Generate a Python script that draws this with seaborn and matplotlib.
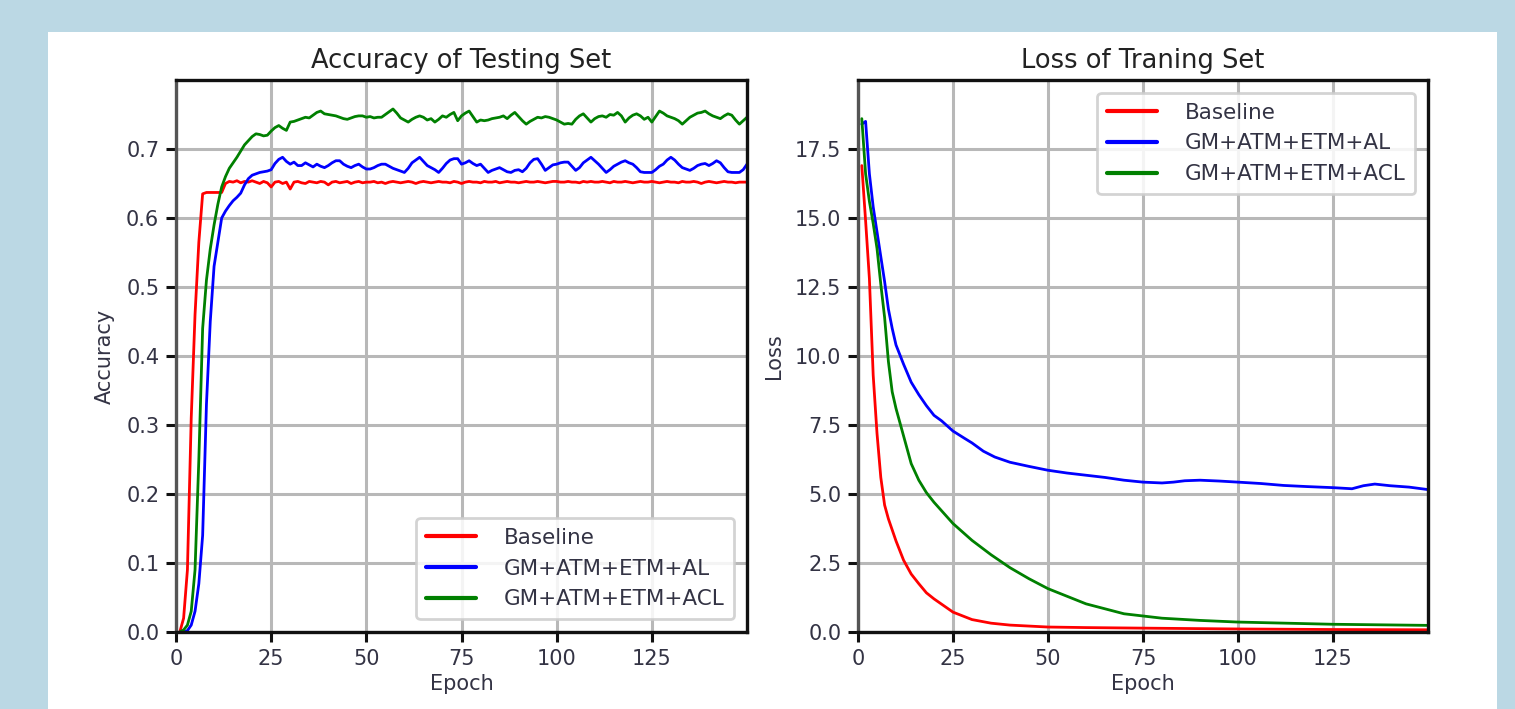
import numpy as np
import pandas as pd
import matplotlib
matplotlib.use("Agg")
import matplotlib.pyplot as plt
from matplotlib.patches import Rectangle
import seaborn as sns

# ---------------- data ----------------
series_names = ["Baseline", "GM+ATM+ETM+AL", "GM+ATM+ETM+ACL"]
series_colors = ["#ff0000", "#0000ff", "#008000"]

epochs_acc = list(range(1, 151))

acc_baseline = [
    0.0, 0.02, 0.09, 0.31, 0.46, 0.565, 0.635, 0.637, 0.637, 0.637, 0.637, 0.637,
    0.650, 0.653, 0.652, 0.654, 0.651, 0.653, 0.652, 0.654, 0.652, 0.650, 0.653, 0.651, 0.645, 0.652, 0.653, 0.650, 0.652, 0.642,
    0.652, 0.653, 0.651, 0.650, 0.653, 0.652, 0.651, 0.653, 0.652, 0.648, 0.652, 0.653, 0.651, 0.652, 0.653, 0.650, 0.652, 0.653, 0.651, 0.652,
    0.652, 0.653, 0.651, 0.652, 0.650, 0.652, 0.653, 0.652, 0.651, 0.652, 0.653, 0.652, 0.650, 0.652, 0.653, 0.652, 0.651, 0.652, 0.653, 0.652,
    0.652, 0.651, 0.653, 0.652, 0.650, 0.652, 0.653, 0.652, 0.652, 0.651, 0.653, 0.652, 0.652, 0.653, 0.651, 0.652, 0.653, 0.652, 0.652, 0.651,
    0.652, 0.653, 0.652, 0.652, 0.653, 0.652, 0.651, 0.652, 0.653, 0.653, 0.652, 0.652, 0.653, 0.652, 0.652, 0.651, 0.653, 0.652, 0.653, 0.652,
    0.652, 0.653, 0.652, 0.651, 0.653, 0.652, 0.652, 0.653, 0.652, 0.651, 0.652, 0.653, 0.652, 0.652, 0.653, 0.652, 0.651, 0.652, 0.653, 0.652,
    0.652, 0.651, 0.653, 0.652, 0.652, 0.653, 0.652, 0.650, 0.652, 0.653, 0.652, 0.651, 0.652, 0.653, 0.652, 0.652, 0.651, 0.652, 0.652, 0.652,
]

acc_al = [
    0.0, 0.0, 0.002, 0.01, 0.03, 0.07, 0.14, 0.33, 0.45, 0.53, 0.565, 0.600, 0.610, 0.618,
    0.625, 0.630, 0.636, 0.648, 0.657, 0.662, 0.664, 0.666, 0.667, 0.668, 0.670, 0.679, 0.685, 0.688, 0.682, 0.678,
    0.681, 0.676, 0.676, 0.680, 0.677, 0.674, 0.678, 0.675, 0.673, 0.676,
    0.680, 0.683, 0.683, 0.678, 0.675, 0.673, 0.676, 0.678, 0.674, 0.671, 0.671, 0.673, 0.676, 0.678, 0.678, 0.675, 0.672, 0.670, 0.668, 0.666,
    0.672, 0.680, 0.684, 0.688, 0.682, 0.676, 0.673, 0.670, 0.666, 0.672, 0.679, 0.684, 0.686, 0.686, 0.678, 0.680, 0.683, 0.679, 0.676, 0.678,
    0.672, 0.666, 0.669, 0.671, 0.673, 0.670, 0.667, 0.666, 0.669, 0.670, 0.667, 0.672, 0.680, 0.685, 0.686, 0.678, 0.669, 0.673, 0.677, 0.678,
    0.680, 0.681, 0.681, 0.675, 0.669, 0.673, 0.680, 0.684, 0.688, 0.683, 0.678, 0.672, 0.666, 0.670, 0.675, 0.678, 0.681, 0.683, 0.680, 0.678,
    0.673, 0.667, 0.666, 0.666, 0.666, 0.670, 0.675, 0.678, 0.684, 0.688, 0.684, 0.678, 0.673, 0.671, 0.669, 0.672, 0.676, 0.678, 0.679, 0.676,
    0.679, 0.683, 0.680, 0.673, 0.667, 0.666, 0.666, 0.666, 0.670, 0.678,
]

acc_acl = [
    0.0, 0.003, 0.01, 0.03, 0.09, 0.25, 0.44, 0.51, 0.555, 0.59, 0.62, 0.645, 0.66,
    0.672, 0.680, 0.688, 0.697, 0.706, 0.712, 0.718, 0.722, 0.721, 0.719, 0.720, 0.726, 0.731, 0.734, 0.730, 0.727,
    0.739, 0.740, 0.742, 0.744, 0.746, 0.745, 0.749, 0.753, 0.755, 0.751, 0.750,
    0.749, 0.748, 0.746, 0.744, 0.743, 0.745, 0.747, 0.748, 0.748, 0.746, 0.747, 0.745, 0.746, 0.746, 0.750, 0.754, 0.758, 0.752, 0.745, 0.742,
    0.739, 0.743, 0.746, 0.748, 0.746, 0.742, 0.744, 0.739, 0.743, 0.748, 0.746, 0.750, 0.753, 0.741, 0.748, 0.752, 0.755, 0.747, 0.739, 0.742,
    0.741, 0.742, 0.744, 0.745, 0.746, 0.748, 0.744, 0.749, 0.753, 0.747, 0.741, 0.736, 0.740, 0.743, 0.746, 0.745, 0.747, 0.746, 0.744, 0.742,
    0.739, 0.736, 0.737, 0.736, 0.743, 0.748, 0.751, 0.745, 0.739, 0.744, 0.747, 0.748, 0.746, 0.750, 0.749, 0.753, 0.748, 0.739, 0.745, 0.749,
    0.751, 0.748, 0.743, 0.746, 0.739, 0.747, 0.755, 0.752, 0.748, 0.746, 0.744, 0.741, 0.736, 0.741, 0.746, 0.749, 0.752, 0.753, 0.755, 0.751,
    0.748, 0.746, 0.744, 0.748, 0.751, 0.749, 0.742, 0.736, 0.741, 0.746,
]

loss_baseline_epochs = [1, 2, 3, 4, 5, 6, 7, 8, 9, 10, 12, 14, 16, 18, 20, 25, 30, 35, 40, 50, 60, 75, 100, 125, 150]
loss_baseline = [16.9, 14.9, 12.8, 9.3, 7.2, 5.6, 4.6, 4.1, 3.7, 3.3, 2.6, 2.1, 1.75, 1.42, 1.2,
                 0.72, 0.45, 0.32, 0.25, 0.18, 0.16, 0.14, 0.11, 0.09, 0.08]

loss_al_epochs = [1, 2, 3, 4, 5, 6, 7, 8, 9, 10, 12, 14, 16, 18, 20, 22, 25, 28, 30, 33, 36, 40, 45,
                  50, 55, 60, 65, 70, 75, 80, 83, 86, 90, 95, 100, 106, 112, 118, 125, 130, 133, 136, 140, 145, 150]
loss_al = [18.4, 18.5, 16.6, 15.4, 14.5, 13.6, 12.7, 11.7, 11.0, 10.4, 9.7, 9.05, 8.6, 8.2, 7.85, 7.65, 7.28,
           7.02, 6.85, 6.55, 6.34, 6.15, 6.0, 5.86, 5.76, 5.68, 5.6, 5.5, 5.43, 5.4, 5.43, 5.48, 5.5, 5.47,
           5.43, 5.38, 5.31, 5.27, 5.23, 5.19, 5.3, 5.36, 5.3, 5.25, 5.16]

loss_acl_epochs = [1, 2, 3, 4, 5, 6, 7, 8, 9, 10, 11, 12, 14, 16, 18, 20, 25, 30, 35, 40, 45, 50, 60, 70,
                   80, 90, 100, 125, 150]
loss_acl = [18.6, 16.6, 15.6, 14.8, 13.9, 12.6, 11.4, 9.8, 8.7, 8.1, 7.6, 7.1, 6.1, 5.5, 5.05, 4.7, 3.93,
            3.32, 2.8, 2.33, 1.93, 1.57, 1.02, 0.66, 0.5, 0.42, 0.36, 0.28, 0.24]

x_ticks = [0, 25, 50, 75, 100, 125]
acc_ticks = [0.0, 0.1, 0.2, 0.3, 0.4, 0.5, 0.6, 0.7]
loss_ticks = [0.0, 2.5, 5.0, 7.5, 10.0, 12.5, 15.0, 17.5]

# ---------------- frames ----------------
acc_df = pd.concat([
    pd.DataFrame({"Epoch": epochs_acc, "Accuracy": acc_baseline, "Model": series_names[0]}),
    pd.DataFrame({"Epoch": epochs_acc, "Accuracy": acc_al, "Model": series_names[1]}),
    pd.DataFrame({"Epoch": epochs_acc, "Accuracy": acc_acl, "Model": series_names[2]}),
], ignore_index=True)

loss_df = pd.concat([
    pd.DataFrame({"Epoch": loss_baseline_epochs, "Loss": loss_baseline, "Model": series_names[0]}),
    pd.DataFrame({"Epoch": loss_al_epochs, "Loss": loss_al, "Model": series_names[1]}),
    pd.DataFrame({"Epoch": loss_acl_epochs, "Loss": loss_acl, "Model": series_names[2]}),
], ignore_index=True)

palette = dict(zip(series_names, series_colors))

# ---------------- style ----------------
sns.set_theme(style="white")
plt.rcParams["font.family"] = ["DejaVu Sans"]
plt.rcParams["font.size"] = 15.5

W, H = 1515, 709
fig = plt.figure(figsize=(W / 100, H / 100), dpi=100, facecolor="#bbd8e4")
fig.patches.append(Rectangle((48 / W, 0), (1497 - 48) / W, (709 - 32) / H,
                             transform=fig.transFigure, facecolor="white",
                             edgecolor="none", zorder=-10))

ax1 = fig.add_axes([176 / W, (H - 632) / H, 571 / W, 552 / H])
ax2 = fig.add_axes([858 / W, (H - 632) / H, 570 / W, 552 / H])

sns.lineplot(data=acc_df, x="Epoch", y="Accuracy", hue="Model", palette=palette,
             hue_order=series_names, estimator=None, linewidth=2.0, ax=ax1)
sns.lineplot(data=loss_df, x="Epoch", y="Loss", hue="Model", palette=palette,
             hue_order=series_names, estimator=None, linewidth=2.0, ax=ax2)

for ax, ticks, ylim, title, ylabel, loc in [
    (ax1, acc_ticks, (0, 0.8), "Accuracy of Testing Set", "Accuracy", "lower right"),
    (ax2, loss_ticks, (0, 20.0), "Loss of Traning Set", "Loss", "upper right"),
]:
    ax.set_facecolor("white")
    ax.set_xlim(0, 150)
    ax.set_ylim(*ylim)
    ax.set_xticks(x_ticks)
    ax.set_yticks(ticks)
    ax.set_yticklabels([f"{t:.1f}" for t in ticks])
    ax.grid(True, color="#b8b8b8", linewidth=2.2)
    ax.set_axisbelow(True)
    for s in ax.spines.values():
        s.set_visible(True)
        s.set_color("#111111")
        s.set_linewidth(2.4)
    ax.spines["left"].set_color("#555555")
    ax.tick_params(axis="both", which="major", direction="out", length=7, width=2.2,
                   color="#111111", labelsize=15, labelcolor="#333344", pad=5,
                   bottom=True, left=True)
    ax.set_title(title, fontsize=18.5, color="#222222", pad=9)
    ax.set_xlabel("Epoch", fontsize=15, color="#333344", labelpad=4)
    ax.set_ylabel(ylabel, fontsize=15, color="#333344", labelpad=8)
    leg = ax.legend(loc=loc, fontsize=15.5, frameon=True, fancybox=True,
                    framealpha=0.85, edgecolor="#cccccc", handlelength=2.3,
                    handletextpad=1.3, borderpad=0.45, labelspacing=0.5,
                    borderaxespad=0.6)
    leg.get_frame().set_linewidth(2.0)
    for line in leg.get_lines():
        line.set_linewidth(3.0)
    for t in leg.get_texts():
        t.set_color("#333344")

fig.savefig("out.png", dpi=100, facecolor=fig.get_facecolor())
